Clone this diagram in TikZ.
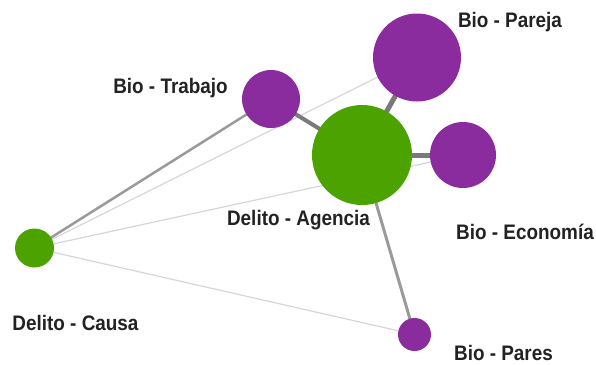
\documentclass[tikz,border=0pt]{standalone}
\usepackage{fontspec}
\setmainfont{Liberation Sans}
\usetikzlibrary{backgrounds}
\definecolor{pur}{HTML}{8B2C9E}
\definecolor{grn}{HTML}{4CA300}
\definecolor{edark}{HTML}{7A7A7A}
\definecolor{emid}{HTML}{9A9A9A}
\definecolor{elight}{HTML}{D6D6D6}
\definecolor{txt}{HTML}{222222}
\tikzset{
  vert/.style={circle, inner sep=0pt, draw=none},
  bio/.style={vert, fill=pur},
  del/.style={vert, fill=grn},
  lbl/.style={anchor=base, inner sep=0pt, text=txt, font=\bfseries\fontsize{21}{21}\selectfont, xscale=0.9},
  strong/.style={draw=edark},
  mid/.style={draw=emid},
  weak/.style={draw=elight, line width=1.2pt},
}
\begin{document}
\begin{tikzpicture}[x=1pt,y=-1pt]
\useasboundingbox (0,0) rectangle (596,364);
\node[bio, minimum size=88pt] (pareja) at (417,57.5) {};
\node[bio, minimum size=58pt] (trabajo) at (271,99) {};
\node[del, minimum size=100pt] (agencia) at (362,155) {};
\node[bio, minimum size=66pt] (economia) at (463,155) {};
\node[del, minimum size=39pt] (causa) at (34.5,248) {};
\node[bio, minimum size=33pt] (pares) at (414.5,334.5) {};
\begin{scope}[on background layer]
\draw[weak] (causa.center) -- (pareja.center);
\draw[weak] (causa.center) -- (economia.center);
\draw[weak] (causa.center) -- (pares.center);
\draw[mid, line width=2.5pt] (causa.center) -- (trabajo.center);
\draw[strong, line width=4pt] (trabajo.center) -- (agencia.center);
\draw[strong, line width=5pt] (agencia.center) -- (pareja.center);
\draw[strong, line width=5pt] (agencia.center) -- (economia.center);
\draw[mid, line width=3pt] (agencia.center) -- (pares.center);
\end{scope}
\node[lbl] (lpareja) at (510,27) {Bio - Pareja};
\node[lbl] (ltrabajo) at (170.5,93) {Bio - Trabajo};
\node[lbl] (lagencia) at (298.5,225) {Delito - Agencia};
\node[lbl] (leconomia) at (525,239) {Bio - Economía};
\node[lbl] (lpares) at (503.5,360) {Bio - Pares};
\node[lbl] (lcausa) at (75.5,330) {Delito - Causa};
\end{tikzpicture}
\end{document}
